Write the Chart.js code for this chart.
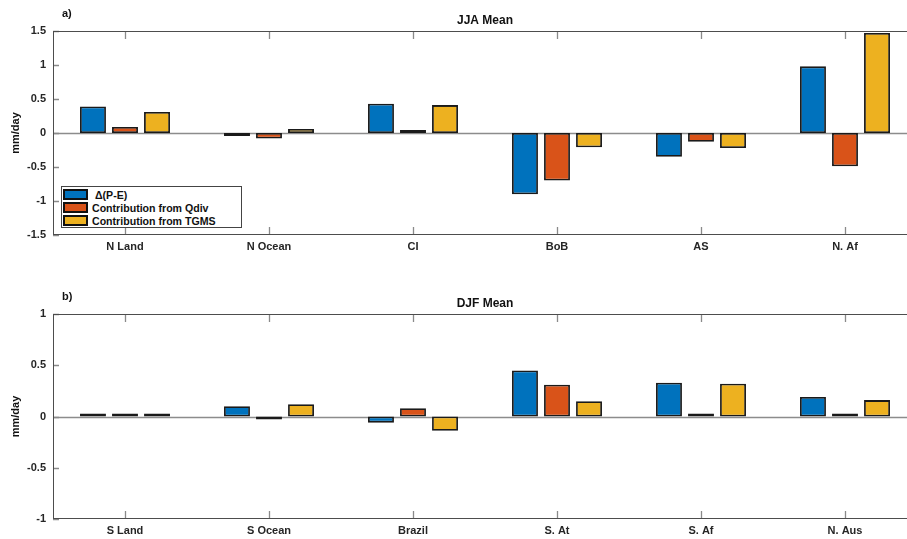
<!DOCTYPE html>
<html>
<head>
<meta charset="utf-8">
<script src="https://cdn.jsdelivr.net/npm/chart.js@4.4.0/dist/chart.umd.min.js"></script>
<style>
  html, body { margin: 0; padding: 0; background: #fff; width: 907px; height: 539px; overflow: hidden; }
  .panel { position: absolute; left: 0; width: 920px; }
  #panelA { top: 0; height: 270px; }
  #panelB { top: 283px; height: 256px; }
  .legend {
    position: absolute; left: 61px; top: 186px; width: 181px; height: 42px;
    box-sizing: border-box; border: 1px solid #444; background: #fff; padding-top: 1px;
    font: bold 10.6px "Liberation Sans", Arial, Helvetica, sans-serif; color: #111; z-index: 2;
  }
  .legend div { height: 13px; display: flex; align-items: center; }
  .legend .sw { display: inline-block; width: 21px; height: 7px; border: 2px solid #111; margin: 0 4px 0 1px; }
</style>
</head>
<body>
<div class="panel" id="panelA"><canvas id="chartJJA"></canvas></div>
<div class="panel" id="panelB"><canvas id="chartDJF"></canvas></div>
<div class="legend" id="legend"></div>
<script>
// ─── Data (mm/day) ────────────────────────────────────────────────────────────
const SERIES_NAMES = ['\u0394(P-E)', 'Contribution from Qdiv', 'Contribution from TGMS'];
const SERIES_COLORS = ['#0072BD', '#D95319', '#EDB120'];

const JJA_REGIONS = ['N Land', 'N Ocean', 'CI', 'BoB', 'AS', 'N. Af'];
const JJA_DPE  = [0.39, -0.03, 0.43, -0.90, -0.35, 0.98];
const JJA_QDIV = [0.09, -0.08, 0.02, -0.70, -0.13, -0.49];
const JJA_TGMS = [0.31,  0.06, 0.41, -0.21, -0.22, 1.47];

const DJF_REGIONS = ['S Land', 'S Ocean', 'Brazil', 'S. At', 'S. Af', 'N. Aus'];
const DJF_DPE  = [0.03,  0.10, -0.06, 0.45, 0.33, 0.19];
const DJF_QDIV = [0.01, -0.02,  0.08, 0.31, 0.01, 0.03];
const DJF_TGMS = [0.02,  0.12, -0.14, 0.15, 0.32, 0.16];

const JJA_TICKS = { min: -1.5, max: 1.5, step: 0.5 };
const DJF_TICKS = { min: -1, max: 1, step: 0.5 };

const FONT = '"Liberation Sans", Arial, Helvetica, sans-serif';

// ─── Frame plugin: box, inward ticks, zero line, titles ───────────────────────
const framePlugin = {
  id: 'frame',
  beforeDatasetsDraw(chart) {
    const { ctx, chartArea: a, scales: { y } } = chart;
    const y0 = Math.round(y.getPixelForValue(0)) + 0.5;
    ctx.save();
    ctx.strokeStyle = '#8c8c8c';
    ctx.lineWidth = 1.5;
    ctx.beginPath();
    ctx.moveTo(a.left, y0);
    ctx.lineTo(a.right, y0);
    ctx.stroke();
    ctx.restore();
  },
  afterDraw(chart, args, opts) {
    const { ctx, chartArea: a, scales: { x, y } } = chart;
    ctx.save();
    ctx.strokeStyle = '#8a8a8a';
    ctx.lineWidth = 1.3;
    ctx.beginPath();
    x.ticks.forEach((t, i) => {
      const px = Math.round(x.getPixelForTick(i)) + 0.5;
      ctx.moveTo(px, a.bottom); ctx.lineTo(px, a.bottom - 8);
      ctx.moveTo(px, a.top);    ctx.lineTo(px, a.top + 8);
    });
    y.ticks.forEach((t, i) => {
      const py = Math.round(y.getPixelForTick(i)) + 0.5;
      ctx.moveTo(a.left, py);  ctx.lineTo(a.left + 6, py);
      ctx.moveTo(a.right, py); ctx.lineTo(a.right - 6, py);
    });
    ctx.stroke();

    ctx.strokeStyle = '#4d4d4d';
    ctx.lineWidth = 1;
    ctx.strokeRect(Math.round(a.left) + 0.5, Math.round(a.top) + 0.5,
                   Math.round(a.width) - 1, Math.round(a.height) - 1);

    ctx.fillStyle = '#111';
    ctx.textBaseline = 'middle';
    ctx.font = 'bold 12px ' + FONT;
    ctx.textAlign = 'center';
    ctx.fillText(opts.title, (a.left + a.right) / 2, 20.5);
    ctx.font = 'bold 11px ' + FONT;
    ctx.textAlign = 'left';
    ctx.fillText(opts.tag, 62, 14);
    ctx.restore();
  }
};

// ─── Chart builder ────────────────────────────────────────────────────────────
function makeDatasets(values) {
  return values.map((vals, i) => ({
    label: SERIES_NAMES[i],
    data: vals,
    backgroundColor: SERIES_COLORS[i],
    borderColor: '#1a1a1a',
    borderWidth: 1.8,
    borderSkipped: false,
    minBarLength: 3,
    categoryPercentage: 0.667,
    barPercentage: 0.81,
  }));
}

function makeChart(id, labels, values, range, title, tag, canvasH) {
  const plotBottom = canvasH === 270 ? 235 : 236;
  return new Chart(document.getElementById(id), {
    type: 'bar',
    data: { labels, datasets: makeDatasets(values) },
    plugins: [framePlugin],
    options: {
      responsive: true,
      maintainAspectRatio: false,
      animation: false,
      layout: { padding: { top: 31, right: 3, bottom: 0, left: 0 } },
      plugins: {
        legend: { display: false },
        tooltip: { enabled: false },
        frame: { title, tag },
      },
      scales: {
        x: {
          offset: true,
          grid: { display: false, drawTicks: false },
          border: { display: false },
          ticks: { color: '#262626', padding: 5, maxRotation: 0, font: { family: FONT, size: 11, weight: 'bold' } },
          afterFit(s) { s.height = canvasH - plotBottom; },
        },
        y: {
          min: range.min,
          max: range.max,
          grid: { display: false, drawTicks: false },
          border: { display: false },
          ticks: {
            stepSize: range.step, color: '#262626', padding: 7,
            font: { family: FONT, size: 11, weight: 'bold' },
            callback: v => String(Math.round(v * 10) / 10),
          },
          title: { display: true, text: 'mm/day', color: '#111', padding: { top: 9, bottom: 0 },
                   font: { family: FONT, size: 11, weight: 'bold' } },
          afterFit(s) { s.width = 53; },
        },
      },
    },
  });
}

makeChart('chartJJA', JJA_REGIONS, [JJA_DPE, JJA_QDIV, JJA_TGMS], JJA_TICKS, 'JJA Mean', 'a)', 270);
makeChart('chartDJF', DJF_REGIONS, [DJF_DPE, DJF_QDIV, DJF_TGMS], DJF_TICKS, 'DJF Mean', 'b)', 256);

// ─── Legend (panel a) ─────────────────────────────────────────────────────────
const legendEl = document.getElementById('legend');
SERIES_NAMES.forEach((name, i) => {
  const row = document.createElement('div');
  const sw = document.createElement('span');
  sw.className = 'sw';
  sw.style.background = SERIES_COLORS[i];
  row.appendChild(sw);
  row.appendChild(document.createTextNode((i === 0 ? '\u00a0' : '') + name));
  legendEl.appendChild(row);
});
</script>
</body>
</html>
